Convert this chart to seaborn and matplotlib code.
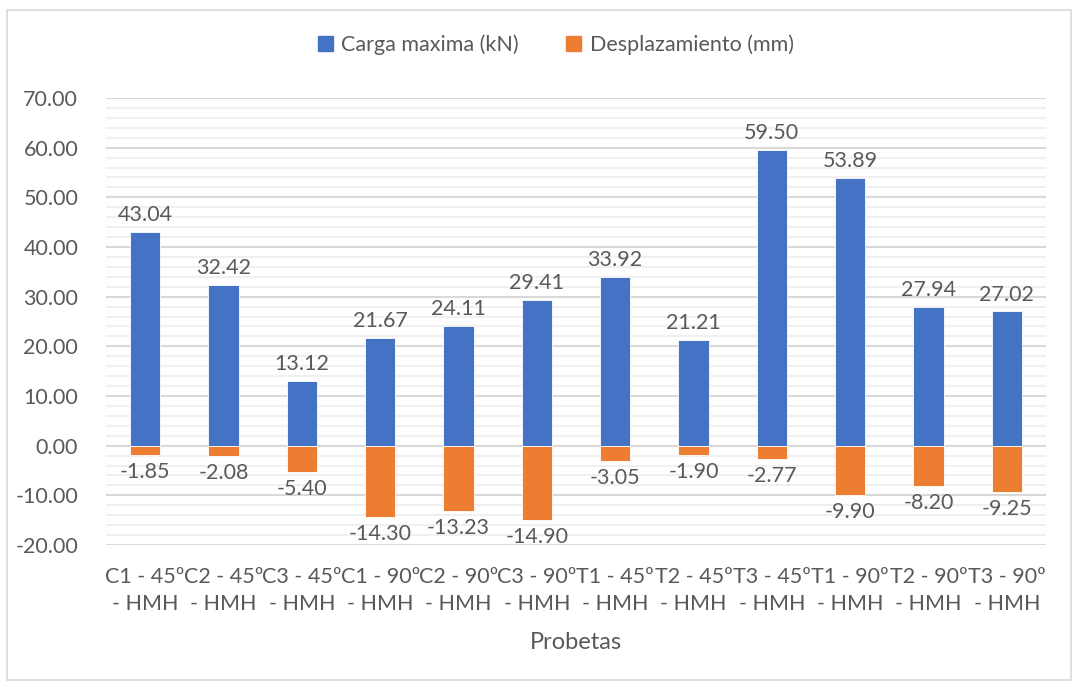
import matplotlib
matplotlib.use("Agg")
import matplotlib.pyplot as plt
from matplotlib.patches import Rectangle
from matplotlib.ticker import MultipleLocator, FormatStrFormatter
import seaborn as sns
import pandas as pd

# Specimen data
probetas = ["C1 - 45º - HMH", "C2 - 45º - HMH", "C3 - 45º - HMH",
            "C1 - 90º - HMH", "C2 - 90º - HMH", "C3 - 90º - HMH",
            "T1 - 45º - HMH", "T2 - 45º - HMH", "T3 - 45º - HMH",
            "T1 - 90º - HMH", "T2 - 90º - HMH", "T3 - 90º - HMH"]
carga_maxima = [43.04, 32.42, 13.12, 21.67, 24.11, 29.41, 33.92, 21.21, 59.50, 53.89, 27.94, 27.02]
desplazamiento = [-1.85, -2.08, -5.40, -14.30, -13.23, -14.90, -3.05, -1.90, -2.77, -9.90, -8.20, -9.25]

series_names = ["Carga maxima (kN)", "Desplazamiento (mm)"]
colors = ["#4472C4", "#ED7D31"]
text_color = "#595959"

df = pd.DataFrame({
    "Probetas": probetas * 2,
    "Valor": carga_maxima + desplazamiento,
    "Serie": [series_names[0]] * len(probetas) + [series_names[1]] * len(probetas),
})

sns.set_theme(style="white")
plt.rcParams["font.family"] = ["Lato", "DejaVu Sans"]

fig = plt.figure(figsize=(10.79, 6.87), dpi=100)
ax = fig.add_axes([106 / 1079, 1 - 545 / 687, (1046 - 106) / 1079, (545 - 98) / 687])

sns.barplot(data=df, x="Probetas", y="Valor", hue="Serie", dodge=False,
            palette=colors, saturation=1, width=0.39, ax=ax, legend=False, zorder=3)
for p in ax.patches:
    p.set_edgecolor("white")
    p.set_linewidth(0.6)

# value labels: above positive bars, below negative bars
for cont in ax.containers:
    ax.bar_label(cont, fmt="%.2f", padding=5, fontsize=15.5, color=text_color)

ax.set_ylim(-20, 70)
ax.set_xlim(-0.5, len(probetas) - 0.5)
ax.yaxis.set_major_locator(MultipleLocator(10))
ax.yaxis.set_minor_locator(MultipleLocator(2))
ax.yaxis.set_major_formatter(FormatStrFormatter("%.2f"))
ax.grid(which="minor", axis="y", color="#f0f0f0", linewidth=1.5, zorder=0)
ax.grid(which="major", axis="y", color="#d9d9d9", linewidth=1.5, zorder=1)
ax.set_axisbelow(True)
for s in ax.spines.values():
    s.set_visible(False)

wrapped = [lab.replace("º - ", "º\n- ") for lab in probetas]
ax.set_xticks(range(len(probetas)))
ax.set_xticklabels(wrapped, fontsize=15.5, color=text_color, linespacing=1.4)
ax.tick_params(axis="x", length=0, pad=16)
ax.tick_params(axis="y", which="both", length=0, pad=20, labelsize=15.5, labelcolor=text_color)
ax.set_xlabel("Probetas", fontsize=17, color=text_color, labelpad=13)
ax.set_ylabel("")

handles = [Rectangle((0, 0), 1, 1, color=c) for c in colors]
fig.legend(handles, series_names, loc="center", bbox_to_anchor=(0.515, 1 - 45 / 687),
           ncol=2, frameon=False, fontsize=15.5, handlelength=0.7, handleheight=0.7,
           handletextpad=0.4, columnspacing=2.2, labelcolor=text_color)

# outer chart border
fig.patches.append(Rectangle((7 / 1079, 7 / 687), 1064 / 1079, 670 / 687,
                             transform=fig.transFigure, fill=False,
                             edgecolor="#d9d9d9", linewidth=1.2))

fig.savefig("out.png", dpi=100, facecolor="white")
